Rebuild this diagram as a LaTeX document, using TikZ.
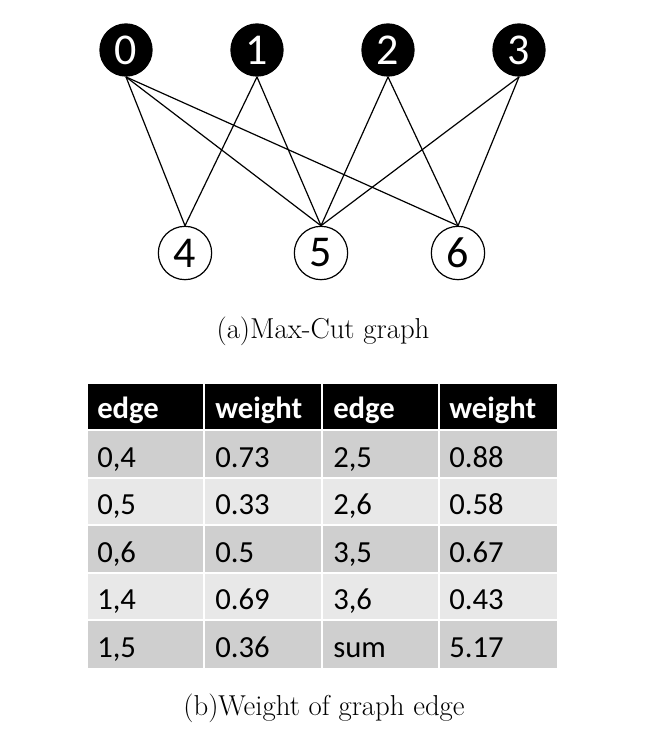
\documentclass[tikz,border=0pt]{standalone}
\usepackage{fontspec}
\usepackage{tikz}
\newfontfamily\carlito{Carlito}
\definecolor{rowdark}{gray}{0.81}
\definecolor{rowlight}{gray}{0.91}

\begin{document}
\begin{tikzpicture}[x=0.75pt, y=-0.75pt,
	topv/.style={circle, fill=black, text=white, minimum size=40pt, inner sep=0pt,
		font=\carlito\fontsize{33}{33}\selectfont},
	botv/.style={circle, draw=black, fill=white, line width=0.9pt, minimum size=40pt, inner sep=0pt,
		font=\carlito\fontsize{33}{33}\selectfont},
	cell/.style={anchor=base west, inner sep=0pt, font=\carlito\fontsize{23}{23}\selectfont},
	headcell/.style={cell, text=white, font=\carlito\bfseries\fontsize{23}{23}\selectfont},
	caption/.style={font=\fontsize{21.6}{24}\selectfont},
	sep/.style={white, line width=1.5pt}]
	\useasboundingbox (0, 0) rectangle (667, 733);

	% graph
	\node[topv] (v0) at (126, 50) {0};
	\node[topv] (v1) at (257, 50) {1};
	\node[topv] (v2) at (388, 50) {2};
	\node[topv] (v3) at (519, 50) {3};
	\node[botv] (v4) at (185, 253) {4};
	\node[botv] (v5) at (321, 253) {5};
	\node[botv] (v6) at (458, 253) {6};
	\foreach \a/\b in {0/4, 0/5, 0/6, 1/4, 1/5, 2/5, 2/6, 3/5, 3/6}
		\draw[line width=0.9pt] (v\a.south) -- (v\b.north);
	\node[caption] (capa) at (323, 331) {(a)Max-Cut graph};

	% table
	\fill[black] (88, 384) rectangle (557, 430);
	\node[headcell] (h1) at (97, 418) {edge};
	\node[headcell] (h2) at (215, 418) {weight};
	\node[headcell] (h3) at (333, 418) {edge};
	\node[headcell] (h4) at (449, 418) {weight};
	\foreach \r/\rc/\ea/\wa/\eb/\wb in {1/rowdark/{0,4}/0.73/{2,5}/0.88,
		2/rowlight/{0,5}/0.33/{2,6}/0.58, 3/rowdark/{0,6}/0.5/{3,5}/0.67,
		4/rowlight/{1,4}/0.69/{3,6}/0.43, 5/rowdark/{1,5}/0.36/sum/5.17} {
		\pgfmathsetmacro\yt{430+(\r-1)*47.6}
		\fill[\rc] (88, \yt) rectangle (557, \yt+47.6);
		\node[cell] (ea\r) at (97, \yt+37) {\ea};
		\node[cell] (wa\r) at (215, \yt+37) {\wa};
		\node[cell] (eb\r) at (333, \yt+37) {\eb};
		\node[cell] (wb\r) at (449, \yt+37) {\wb};
	}
	\foreach \x in {204, 322, 439}
		\draw[sep] (\x, 384) -- (\x, 668);
	\foreach \r in {0, ..., 4}
		\draw[sep] (88, 430+\r*47.6) -- (557, 430+\r*47.6);
	\node[caption] (capb) at (324, 708) {(b)Weight of graph edge};
\end{tikzpicture}
\end{document}
